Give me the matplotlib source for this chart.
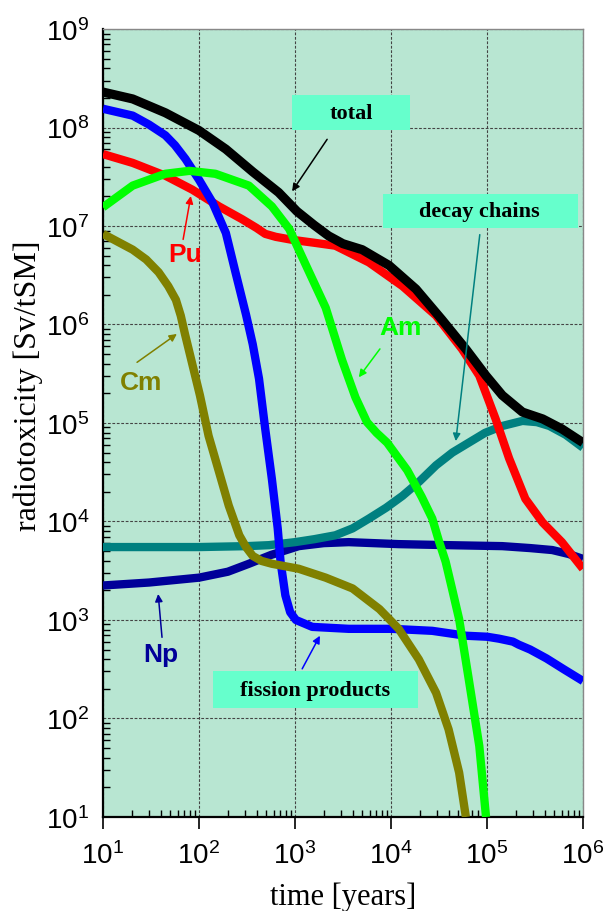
import matplotlib
matplotlib.use("Agg")
import matplotlib.pyplot as plt
from matplotlib.patches import Rectangle
from matplotlib.ticker import LogLocator, FuncFormatter, NullFormatter
import numpy as np

plt.rcParams['font.family'] = ['Liberation Sans', 'DejaVu Sans']

# radiotoxicity of spent fuel per nuclide group [Sv/tSM] vs time [years]
t_total = [10, 20.4, 44.7, 100, 190.5, 363, 676, 1047, 1585, 2239, 3162, 5012, 9550,
           1.82e4, 3.39e4, 6.03e4, 9.77e4, 1.445e5, 2.344e5, 3.802e5, 6.026e5, 1e6]
total = [2.29e8, 1.95e8, 1.41e8, 9.33e7, 6.03e7, 3.55e7, 2.19e7, 1.41e7, 1.02e7, 7.94e6,
         6.61e6, 5.75e6, 3.98e6, 2.29e6, 1.12e6, 5.62e5, 3.02e5, 1.91e5, 1.29e5, 1.10e5,
         8.71e4, 6.31e4]

t_pu = [10, 20.4, 44.7, 85.1, 162, 282, 398, 490, 631, 933, 1585, 2630, 5890, 1.32e4,
        2.95e4, 5.5e4, 8.32e4, 1.23e5, 1.7e5, 2.51e5, 3.8e5, 6.03e5, 1e6]
pu = [5.37e7, 4.37e7, 3.24e7, 2.34e7, 1.58e7, 1.17e7, 9.55e6, 8.32e6, 7.76e6, 7.24e6,
      6.76e6, 6.31e6, 4.27e6, 2.45e6, 1.23e6, 5.62e5, 3.02e5, 1.10e5, 4.37e4, 1.70e4,
      9.77e3, 6.17e3, 3.31e3]

t_am = [10, 20.4, 44.7, 79.4, 148, 331, 575, 871, 1318, 2089, 3090, 4266, 5623, 7079,
        9120, 1.479e4, 2.089e4, 2.692e4, 3.162e4, 3.715e4, 4.365e4, 5.129e4, 6.457e4,
        8.318e4, 9.772e4]
am = [1.55e7, 2.57e7, 3.39e7, 3.63e7, 3.39e7, 2.57e7, 1.58e7, 9.33e6, 3.89e6, 1.48e6,
      4.37e5, 1.82e5, 1.02e5, 7.94e4, 6.31e4, 3.31e4, 1.78e4, 1.07e4, 6.31e3, 3.89e3,
      2.0e3, 1.02e3, 251, 52.5, 10]

t_cm = [10, 20.4, 28.2, 38.0, 47.9, 57.5, 64.6, 71.6, 85.1, 102.3, 125.9, 162.2, 204.2,
        263, 309, 363, 447, 575, 1096, 2089, 3981, 7586, 1.202e4, 1.95e4, 2.951e4,
        3.981e4, 5.129e4, 6.026e4]
cm = [8.32e6, 5.75e6, 4.57e6, 3.39e6, 2.45e6, 1.78e6, 1.23e6, 7.94e5, 3.98e5, 1.91e5,
      7.41e4, 3.16e4, 1.45e4, 7.24e3, 5.5e3, 4.47e3, 3.98e3, 3.72e3, 3.31e3, 2.69e3,
      2.09e3, 1.29e3, 813, 398, 182, 77.6, 28.2, 10]

t_fp = [10, 20.4, 30.2, 44.7, 56.2, 72.4, 100, 138, 190.5, 240, 309, 363, 422, 490, 575,
        661, 708, 794, 891, 1023, 1514, 3631, 1.023e4, 2.692e4, 6.026e4, 1e5, 1.334e5,
        1.862e5, 2.138e5, 2.818e5, 4.169e5, 6.31e5, 1e6]
fp = [1.55e8, 1.32e8, 1.07e8, 8.32e7, 6.61e7, 4.79e7, 2.95e7, 1.74e7, 8.51e6, 3.39e6,
      1.26e6, 6.31e5, 2.82e5, 8.71e4, 2.69e4, 8.51e3, 3.89e3, 1.78e3, 1.20e3, 1.0e3, 851,
      813, 813, 776, 692, 676, 646, 603, 562, 501, 407, 316, 240]

t_dc = [10, 31.6, 100, 316, 537, 1000, 1585, 2630, 3981, 5888, 8913, 1.318e4, 1.995e4,
        2.951e4, 4.365e4, 6.457e4, 9.55e4, 1.445e5, 2.344e5, 3.311e5, 4.467e5, 6.607e5,
        1e6]
dc = [5.50e3, 5.50e3, 5.50e3, 5.62e3, 5.75e3, 6.17e3, 6.61e3, 7.24e3, 8.51e3, 1.07e4,
      1.38e4, 1.82e4, 2.57e4, 3.72e4, 5.01e4, 6.31e4, 7.94e4, 9.33e4, 1.05e5, 1.02e5,
      9.33e4, 7.59e4, 5.62e4]

t_np = [10, 30.2, 100, 200, 331, 562, 1096, 1995, 3631, 1.202e4, 3.981e4, 1.445e5,
        2.818e5, 4.786e5, 7.079e5, 1e6]
np_ = [2.24e3, 2.40e3, 2.69e3, 3.09e3, 3.72e3, 4.57e3, 5.62e3, 6.03e3, 6.17e3, 5.89e3,
       5.75e3, 5.62e3, 5.37e3, 5.13e3, 4.68e3, 4.17e3]

fig = plt.figure(figsize=(6.05, 9.12), dpi=100)
ax = fig.add_axes([0.1702, 0.1031, 0.7934, 0.8640])
ax.set_facecolor('#b8e6d2')

lw = 6
style = dict(lw=lw, solid_capstyle='butt', solid_joinstyle='round')
ax.plot(t_np, np_, color='#000099', zorder=3, **style)
ax.plot(t_dc, dc, color='#008080', zorder=4, **style)
ax.plot(t_pu, pu, color='#ff0000', zorder=5, **style)
ax.plot(t_fp, fp, color='#0000ff', zorder=6, **style)
ax.plot(t_cm, cm, color='#808000', zorder=7, **style)
ax.plot(t_am, am, color='#00ff00', zorder=8, **style)
style['lw'] = lw + 0.6
ax.plot(t_total, total, color='#000000', zorder=9, **style)

ax.set_xscale('log')
ax.set_yscale('log')
ax.set_xlim(10, 1e6)
ax.set_ylim(10, 1e9)

dec = lambda v, pos: r'$\mathregular{10^{%d}}$' % round(np.log10(v))
ax.xaxis.set_major_locator(LogLocator(base=10, numticks=10))
ax.yaxis.set_major_locator(LogLocator(base=10, numticks=12))
ax.xaxis.set_minor_locator(LogLocator(base=10, subs=np.arange(2, 10), numticks=12))
ax.yaxis.set_minor_locator(LogLocator(base=10, subs=np.arange(2, 10), numticks=12))
ax.xaxis.set_major_formatter(FuncFormatter(dec))
ax.yaxis.set_major_formatter(FuncFormatter(dec))
ax.xaxis.set_minor_formatter(NullFormatter())
ax.yaxis.set_minor_formatter(NullFormatter())

ax.tick_params(axis='x', which='major', direction='out', length=8.5, width=1.2,
               labelsize=20, pad=9, top=False)
ax.tick_params(axis='x', which='minor', direction='in', length=5, width=1, top=False)
ax.tick_params(axis='y', which='major', direction='in', length=0, labelsize=20, pad=10,
               right=False)
ax.tick_params(axis='y', which='minor', direction='in', length=5, width=1, right=False)

ax.grid(True, which='major', color='#444444', lw=0.8, ls=(0, (2.5, 1.5)), zorder=1)
ax.set_axisbelow(True)

for side in ('left', 'bottom'):
    ax.spines[side].set_linewidth(1.6)
    ax.spines[side].set_color('black')
for side in ('top', 'right'):
    ax.spines[side].set_linewidth(1.0)
    ax.spines[side].set_color('#888888')

ax.set_xlabel('time [years]', family='Liberation Serif', fontsize=22)
ax.set_ylabel('radiotoxicity [Sv/tSM]', family='Liberation Serif', fontsize=23)
ax.xaxis.set_label_coords(0.5, -0.082)
ax.yaxis.set_label_coords(-0.125, 0.548)

# boxed labels
boxes = [('total', (0.394, 0.872, 0.246, 0.044), (0.517, 0.893)),
         ('decay chains', (0.583, 0.747, 0.407, 0.044), (0.785, 0.769)),
         ('fission products', (0.229, 0.138, 0.427, 0.047), (0.442, 0.161))]
for txt, (x0, y0, w, h), (tx, ty) in boxes:
    ax.add_patch(Rectangle((x0, y0), w, h, transform=ax.transAxes,
                           facecolor='#66ffcc', edgecolor='none', zorder=10))
    ax.text(tx, ty, txt, transform=ax.transAxes, ha='center', va='center',
            family='Liberation Serif', weight='bold', fontsize=16, zorder=11)

def pointer(tail, head, color):
    ax.annotate('', xy=head, xytext=tail, xycoords='axes fraction',
                textcoords='axes fraction', zorder=12,
                arrowprops=dict(arrowstyle='-|>', color=color, lw=1.1,
                                mutation_scale=11, shrinkA=0, shrinkB=0))

pointer((0.467, 0.860), (0.394, 0.794), 'black')
pointer((0.785, 0.739), (0.735, 0.477), '#008080')
pointer((0.415, 0.188), (0.452, 0.230), '#0000ff')

# nuclide labels
labels = [('Pu', (0.171, 0.714), '#ff0000', (0.167, 0.733), (0.183, 0.788)),
          ('Am', (0.619, 0.622), '#00ff00', (0.577, 0.594), (0.533, 0.558)),
          ('Cm', (0.079, 0.552), '#808000', (0.071, 0.577), (0.154, 0.613)),
          ('Np', (0.121, 0.207), '#000099', (0.123, 0.228), (0.115, 0.283))]
for name, pos, col, tail, head in labels:
    ax.text(pos[0], pos[1], name, transform=ax.transAxes, ha='center', va='center',
            color=col, weight='bold', fontsize=19, zorder=11)
    pointer(tail, head, col)

fig.savefig('out.png', dpi=100, facecolor='white')
